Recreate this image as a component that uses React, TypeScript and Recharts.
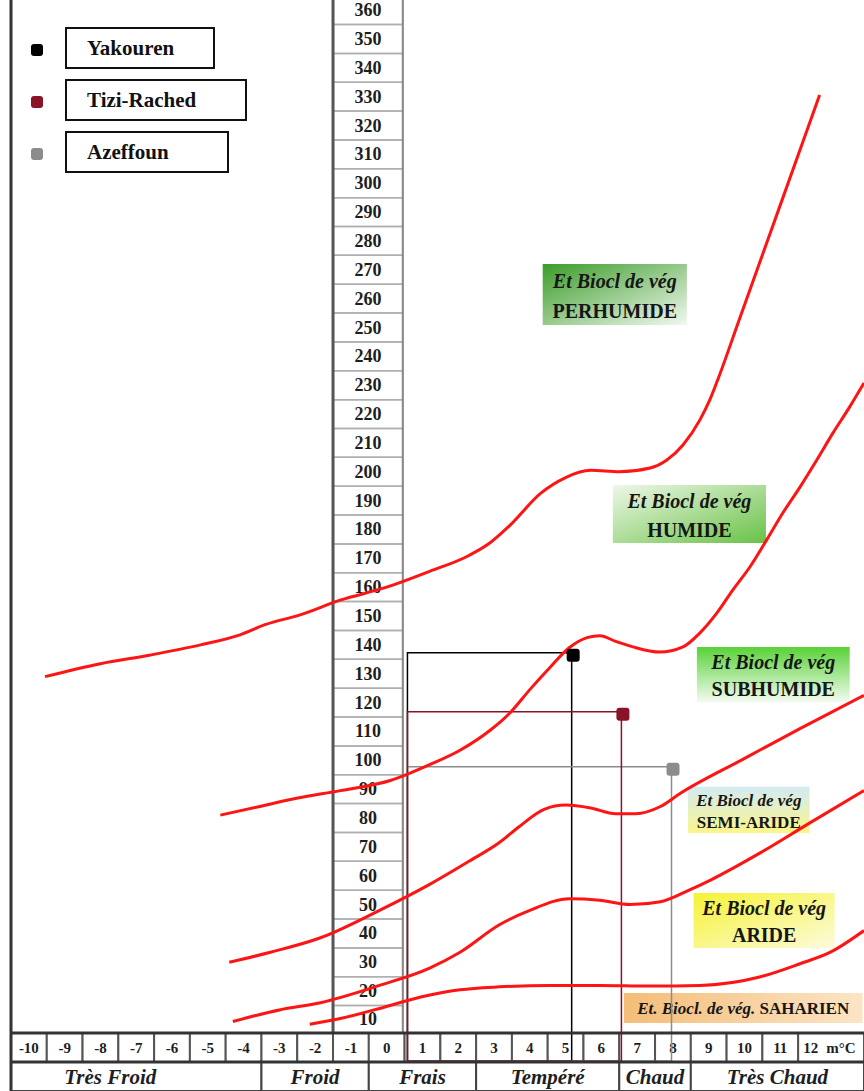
import React from 'react';
import { ComposedChart, Line, Scatter, XAxis, YAxis, ReferenceArea, ReferenceLine, Legend } from 'recharts';

const FONT = '"Liberation Serif", "Times New Roman", serif';

// limites des étages bioclimatiques : t = m (°C), q = Q2
const perhumideHumide = [
  { t: -9.55, q: 129 }, { t: -8.0, q: 133.5 }, { t: -6.6, q: 136.5 }, { t: -5.2, q: 140 },
  { t: -4.1, q: 143.5 }, { t: -3.4, q: 147 }, { t: -2.4, q: 150.5 }, { t: -1.3, q: 155.5 },
  { t: 0, q: 160 }, { t: 1.2, q: 165.5 }, { t: 2.3, q: 171 }, { t: 2.9, q: 175.5 },
  { t: 3.45, q: 181.5 }, { t: 4.3, q: 192.5 }, { t: 5.0, q: 198 }, { t: 5.7, q: 200.5 },
  { t: 6.5, q: 200 }, { t: 7.36, q: 201.3 }, { t: 7.83, q: 204.1 }, { t: 8.28, q: 209.3 },
  { t: 8.75, q: 217.9 }, { t: 9.03, q: 224.9 }, { t: 9.25, q: 231.8 }, { t: 9.87, q: 253.3 },
  { t: 10.71, q: 282.4 }, { t: 11.55, q: 311.5 }, { t: 12.1, q: 330.6 },
];

const humideSubhumide = [
  { t: -4.65, q: 81 }, { t: -3.55, q: 84 }, { t: -2.45, q: 87 }, { t: -1.3, q: 89.5 },
  { t: 0.1, q: 93 }, { t: 1.2, q: 98.5 }, { t: 2.05, q: 103.5 }, { t: 2.9, q: 110.5 },
  { t: 3.45, q: 116.5 }, { t: 4.0, q: 124.5 }, { t: 4.55, q: 132 }, { t: 5.1, q: 139 },
  { t: 5.6, q: 142.5 }, { t: 5.96, q: 143.2 }, { t: 6.4, q: 141.2 }, { t: 6.88, q: 139.3 },
  { t: 7.63, q: 137.5 }, { t: 8.28, q: 139.3 }, { t: 8.75, q: 144.1 }, { t: 9.23, q: 151.1 },
  { t: 9.67, q: 159 }, { t: 10.15, q: 167 }, { t: 10.62, q: 176.4 }, { t: 11.07, q: 185.7 },
  { t: 11.55, q: 194.7 }, { t: 12.02, q: 204.1 }, { t: 12.47, q: 213.4 }, { t: 12.94, q: 222.5 },
  { t: 13.34, q: 230.8 },
];

const subhumideSemiAride = [
  { t: -4.4, q: 30 }, { t: -3.25, q: 33.5 }, { t: -1.85, q: 38.5 }, { t: -0.2, q: 48 },
  { t: 1.2, q: 57 }, { t: 2.3, q: 65 }, { t: 3.15, q: 71.5 }, { t: 3.7, q: 77 },
  { t: 4.4, q: 83 }, { t: 5.0, q: 84.5 }, { t: 5.7, q: 83.5 }, { t: 6.4, q: 81.5 },
  { t: 6.95, q: 81.5 }, { t: 7.65, q: 84 }, { t: 8.2, q: 88.5 }, { t: 9.9, q: 100 },
  { t: 11.55, q: 111 }, { t: 13.34, q: 122.5 },
];

const semiArideAride = [
  { t: -4.3, q: 9.5 }, { t: -3.0, q: 13.5 }, { t: -1.85, q: 16 }, { t: -0.2, q: 22 },
  { t: 1.2, q: 28 }, { t: 2.05, q: 33.5 }, { t: 3.15, q: 43 }, { t: 4.0, q: 48 },
  { t: 5.1, q: 52 }, { t: 5.95, q: 51.5 }, { t: 6.8, q: 50 }, { t: 7.65, q: 51 },
  { t: 8.45, q: 55 }, { t: 9.05, q: 58.5 }, { t: 10.45, q: 68 }, { t: 11.85, q: 78.5 },
  { t: 13.34, q: 89.5 },
];

const arideSaharien = [
  { t: -2.15, q: 8.5 }, { t: -1.3, q: 10.5 }, { t: -0.2, q: 14 }, { t: 0.95, q: 18 },
  { t: 2.05, q: 20.5 }, { t: 3.15, q: 21.5 }, { t: 4.55, q: 22 }, { t: 5.95, q: 22 },
  { t: 7.35, q: 21.8 }, { t: 8.75, q: 22 }, { t: 10.45, q: 25 }, { t: 11.55, q: 29.5 },
  { t: 12.4, q: 33.5 }, { t: 13.34, q: 41 },
];

const curves = [perhumideHumide, humideSubhumide, subhumideSemiAride, semiArideAride, arideSaharien];

const stations = [
  { name: 'Yakouren', t: 5.17, q: 137.3, color: '#000000' },
  { name: 'Tizi-Rached', t: 6.56, q: 116.8, color: '#8b1328' },
  { name: 'Azeffoun', t: 7.96, q: 97.8, color: '#8c8c8c' },
];

const qTicks = [10, 20, 30, 40, 50, 60, 70, 80, 90, 100, 110, 120, 130, 140, 150, 160, 170, 180,
  190, 200, 210, 220, 230, 240, 250, 260, 270, 280, 290, 300, 310, 320, 330, 340, 350, 360];

const mTicks = [-10, -9, -8, -7, -6, -5, -4, -3, -2, -1, 0, 1, 2, 3, 4, 5, 6, 7, 8, 9, 10, 11, 12];

const thermalZones = [
  { name: 'Très Froid', from: -10.5, to: -3.5 },
  { name: 'Froid', from: -3.5, to: -0.5 },
  { name: 'Frais', from: -0.5, to: 2.5 },
  { name: 'Tempéré', from: 2.5, to: 6.5 },
  { name: 'Chaud', from: 6.5, to: 8.5 },
  { name: 'Très Chaud', from: 8.5, to: 13.34 },
];

const etages = ['PERHUMIDE', 'HUMIDE', 'SUBHUMIDE', 'SEMI-ARIDE', 'ARIDE'];

// layout of the label boxes (chart units)
const etageBoxes = [
  { x1: 4.36, x2: 8.39, y1: 250.9, y2: 272, fill: 'url(#gPer)', size: 20 },
  { x1: 6.32, x2: 10.6, y1: 175.3, y2: 195.4, fill: 'url(#gHum)', size: 20 },
  { x1: 8.67, x2: 12.94, y1: 120.2, y2: 139.3, fill: 'url(#gSub)', size: 20 },
  { x1: 8.42, x2: 11.82, y1: 74.8, y2: 90.8, fill: 'url(#gSemi)', size: 17 },
  { x1: 8.58, x2: 12.52, y1: 35, y2: 54, fill: 'url(#gAri)', size: 20 },
];
const legendWidths = [150, 182, 164];

const X_MIN = -10.5;
const X_MAX = 13.34;
const Y_MIN = -14.6;
const Y_MAX = 363.5;
const ROW_TOP = 5.5;
const ROW_MID = -4.55;
const GUIDE_FROM = 0.58;
const GUIDE_BOTTOM = -4.3;

const etageLabel = (name: string, size: number) => (props: any) => {
  const { x, y, width, height } = props.viewBox;
  const cx = x + width / 2;
  return (
    <text textAnchor="middle" fontFamily={FONT} fontWeight="bold" fontSize={size} fill="#161616" dominantBaseline="central">
      <tspan x={cx} y={y + height * 0.28} fontStyle="italic">Et Biocl de vég</tspan>
      <tspan x={cx} y={y + height * 0.77}>{name}</tspan>
    </text>
  );
};

const saharienLabel = (props: any) => {
  const { x, y, width, height } = props.viewBox;
  return (
    <text x={x + width / 2} y={y + height / 2} textAnchor="middle" dominantBaseline="central"
      fontFamily={FONT} fontWeight="bold" fontSize={17} fill="#161616">
      <tspan fontStyle="italic">Et. Biocl. de vég.</tspan>
      <tspan> SAHARIEN</tspan>
    </text>
  );
};

const cellLabel = (text: string, size: number, italic = false, dx = 0) => (props: any) => {
  const { x, y, width, height } = props.viewBox;
  return (
    <text x={x + width / 2 + dx} y={y + height / 2} textAnchor="middle" dominantBaseline="central"
      fontFamily={FONT} fontWeight="bold" fontStyle={italic ? 'italic' : 'normal'} fontSize={size} fill="#1e1e1e">
      {text}
    </text>
  );
};

const lastTickLabel = (text: string) => (props: any) => {
  const { x, y, height } = props.viewBox;
  return (
    <text x={x + 5} y={y + height / 2} dominantBaseline="central" fontFamily={FONT} fontWeight="bold" fontSize={15} fill="#1e1e1e">
      {text}<tspan dx={8}>m°C</tspan>
    </text>
  );
};

const StationLegend = () => (
  <div style={{ fontFamily: FONT }}>
    {stations.map((s, i) => (
      <div key={s.name} style={{ display: 'flex', alignItems: 'center', marginBottom: 10 }}>
        <span style={{ width: 12, height: 12, borderRadius: 3, background: s.color, marginRight: 22, marginTop: 4 }} />
        <span style={{
          boxSizing: 'border-box', width: legendWidths[i], height: 42, border: '2px solid #111',
          paddingLeft: 20, lineHeight: '38px', fontWeight: 'bold', fontSize: 21, color: '#111',
        }}>{s.name}</span>
      </div>
    ))}
  </div>
);

export default function App() {
  return (
    <div style={{ position: 'absolute', left: 0, top: 0, background: '#fff' }}>
      <ComposedChart width={864} height={1091} margin={{ top: 0, right: 0, bottom: 0, left: 11 }}>
        <defs>
          <linearGradient id="gPer" x1="0" y1="0" x2="1" y2="1">
            <stop offset="0%" stopColor="#3b9c29" />
            <stop offset="100%" stopColor="#f1f8ef" />
          </linearGradient>
          <linearGradient id="gHum" x1="0" y1="0" x2="1" y2="1">
            <stop offset="0%" stopColor="#eef7e8" />
            <stop offset="100%" stopColor="#69c246" />
          </linearGradient>
          <linearGradient id="gSub" x1="0" y1="0" x2="0" y2="1">
            <stop offset="0%" stopColor="#58d236" />
            <stop offset="100%" stopColor="#f3fbf1" />
          </linearGradient>
          <linearGradient id="gSemi" x1="0" y1="0" x2="0" y2="1">
            <stop offset="0%" stopColor="#d3ebf4" />
            <stop offset="100%" stopColor="#fbf58a" />
          </linearGradient>
          <linearGradient id="gAri" x1="0" y1="0" x2="1" y2="1">
            <stop offset="0%" stopColor="#f5f234" />
            <stop offset="100%" stopColor="#fdfbdc" />
          </linearGradient>
          <linearGradient id="gSah" x1="0" y1="0" x2="1" y2="0">
            <stop offset="0%" stopColor="#f4bd78" />
            <stop offset="100%" stopColor="#fbe5c6" />
          </linearGradient>
        </defs>

        <XAxis type="number" dataKey="t" domain={[X_MIN, X_MAX]} allowDataOverflow hide />
        <YAxis type="number" dataKey="q" domain={[Y_MIN, Y_MAX]} allowDataOverflow hide />

        {etages.map((name, i) => (
          <ReferenceArea key={name} x1={etageBoxes[i].x1} x2={etageBoxes[i].x2} y1={etageBoxes[i].y1} y2={etageBoxes[i].y2}
            fill={etageBoxes[i].fill} fillOpacity={1} stroke="none" ifOverflow="visible"
            label={etageLabel(name, etageBoxes[i].size)} />
        ))}
        <ReferenceArea x1={6.63} x2={13.3} y1={8.97} y2={19.4} fill="url(#gSah)" fillOpacity={1} stroke="none"
          ifOverflow="visible" label={saharienLabel} />

        {qTicks.map((q) => (
          <ReferenceArea key={'q' + q} x1={-1.5} x2={0.45} y1={Math.max(q - 5, ROW_TOP)} y2={q + 5}
            fill="none" stroke="#b0b0b0" strokeWidth={1.5} ifOverflow="hidden"
            label={cellLabel(String(q), 18)} />
        ))}
        <ReferenceLine segment={[{ x: -1.5, y: ROW_TOP }, { x: -1.5, y: Y_MAX }]} stroke="#555" strokeWidth={3} ifOverflow="visible" />
        <ReferenceLine segment={[{ x: 0.45, y: ROW_TOP }, { x: 0.45, y: Y_MAX }]} stroke="#888" strokeWidth={2} ifOverflow="visible" />

        {mTicks.map((m, i) => (
          <ReferenceArea key={'m' + m} x1={m === mTicks[0] ? X_MIN : m - 0.5} x2={i === mTicks.length - 1 ? X_MAX : m + 0.5}
            y1={ROW_MID} y2={ROW_TOP} fill="#fff" fillOpacity={1} stroke="#555" strokeWidth={2} ifOverflow="visible"
            label={i === mTicks.length - 1 ? lastTickLabel(String(m)) : cellLabel(String(m), 15)} />
        ))}
        {thermalZones.map((z, i) => (
          <ReferenceArea key={z.name} x1={z.from} x2={z.to} y1={Y_MIN} y2={ROW_MID}
            fill="#fff" fillOpacity={1} stroke="#444" strokeWidth={2} ifOverflow="visible"
            label={cellLabel(z.name, 21, true, i === 0 ? -26 : 0)} />
        ))}
        <ReferenceLine y={ROW_TOP} stroke="#333" strokeWidth={3} ifOverflow="visible" />
        <ReferenceLine y={ROW_MID} stroke="#333" strokeWidth={3} ifOverflow="visible" />
        <ReferenceLine x={X_MIN} stroke="#333" strokeWidth={3} ifOverflow="visible" />

        {[stations[0], stations[2], stations[1]].map((s) => (
          <ReferenceArea key={'g' + s.name} x1={GUIDE_FROM} x2={s.t} y1={GUIDE_BOTTOM} y2={s.q}
            fill="none" stroke={s.color} strokeWidth={1.5} ifOverflow="visible" />
        ))}

        {curves.map((c, i) => (
          <Line key={'c' + i} data={c} dataKey="q" type="monotone" stroke="#ff1414" strokeWidth={3}
            dot={false} activeDot={false} legendType="none" isAnimationActive={false} />
        ))}

        {stations.map((s) => (
          <Scatter key={s.name} name={s.name} data={[s]} fill={s.color} isAnimationActive={false}
            shape={(p: any) => <rect x={p.cx - 5} y={p.cy - 4} width={13} height={13} rx={3} fill={s.color} />} />
        ))}

        <Legend layout="horizontal" verticalAlign="middle" align="center"
          wrapperStyle={{ position: 'absolute', top: 27, left: 31, width: 260, height: 160, margin: 0 }}
          content={() => <StationLegend />} />
      </ComposedChart>
    </div>
  );
}
